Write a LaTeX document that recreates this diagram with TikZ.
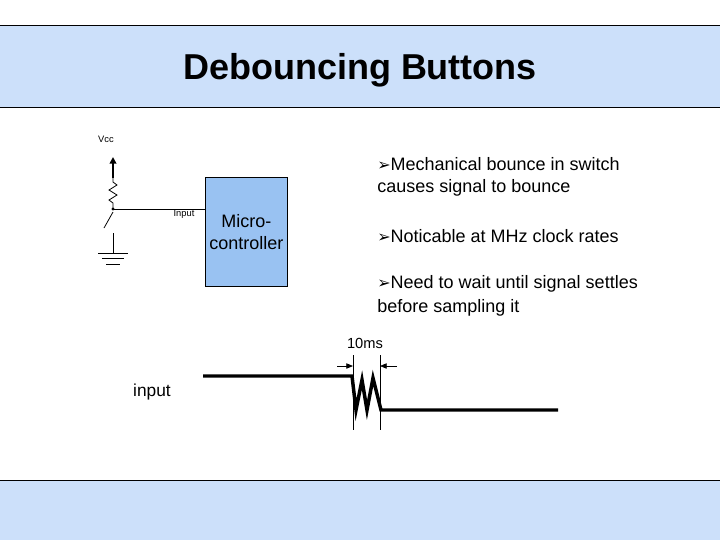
\documentclass[tikz,border=0pt]{standalone}
\usepackage{fontspec}
\setmainfont{Liberation Sans}
\newfontfamily\djv{DejaVu Sans}
\usetikzlibrary{arrows.meta}
\definecolor{band}{HTML}{CCE0FA}
\definecolor{boxc}{HTML}{99C2F2}
\tikzset{txt/.style={inner sep=0pt,anchor=west,font=\fontsize{13.5pt}{16pt}\selectfont},
 wave/.style={line width=2.6pt},thin/.style={line width=0.6pt}}
\begin{document}
\begin{tikzpicture}[x=0.75pt,y=-0.75pt]
\useasboundingbox (0,0) rectangle (720,540);
\fill[white] (0,0) rectangle (720,540);
\fill[band] (0,25) rectangle (720,107);
\draw[thin] (0,25) -- (720,25) (0,107) -- (720,107);
\fill[band] (0,480) rectangle (720,540);
\draw[thin] (0,480) -- (720,480);
\node[font=\bfseries\fontsize{27pt}{30pt}\selectfont] (title) at (360,70) {Debouncing Buttons};
% circuit
\node[font=\fontsize{7pt}{8pt}\selectfont] (vcc) at (106,139) {Vcc};
\coordinate (j) at (113,209);
\coordinate (rt) at (113,178);
\coordinate (ar) at (113,157);
\draw[line width=1.3pt,-{Triangle[length=5pt,width=5pt]}] (rt) -- (ar);
\draw[thin] (rt) -- (113,182) -- (117,185) -- (109,190) -- (117,195) -- (109,200) -- (113,203) -- (j);
\fill (j) circle (1.3pt);
\node[draw=black,thin,fill=boxc,minimum width=61.5pt,minimum height=81.75pt,inner sep=0pt,anchor=north west,align=center,font=\fontsize{13.5pt}{16pt}\selectfont] (mc) at (205,177) {Micro-\\controller};
\draw[thin] (j) -- (mc.west |- j);
\node[font=\fontsize{7pt}{8pt}\selectfont] (inp) at (184,214) {Input};
\draw[thin] (113,212) -- (104,228);
\draw[thin] (113,233) -- (113,253);
\draw[thin] (98,253) -- (128,253) (102,258) -- (124,258) (106,264) -- (120,264);
% bullets
\node[txt] (b1) at (377,164) {{\djv\fontsize{12pt}{14pt}\selectfont ➢}Mechanical bounce in switch};
\node[txt] (b1b) at (377,188) {causes signal to bounce};
\node[txt] (b2) at (377,236) {{\djv\fontsize{12pt}{14pt}\selectfont ➢}Noticable at MHz clock rates};
\node[txt] (b3) at (377,284) {{\djv\fontsize{12pt}{14pt}\selectfont ➢}Need to wait until signal settles};
\node[txt] (b3b) at (377,308) {before sampling it};
% waveform
\node[font=\fontsize{11pt}{13pt}\selectfont] (ms) at (365,343) {10ms};
\node[font=\fontsize{13pt}{15pt}\selectfont] (in) at (152,392) {input};
\draw[wave,line join=miter] (203,376) -- (352,376) -- (356,410) -- (362,380) -- (367,410) -- (373,378) -- (381,410) -- (558,410);
\coordinate (l1) at (353,355); \coordinate (l2) at (380,355);
\draw[thin] (l1) -- (353,430) (l2) -- (380,430);
\draw[thin,-{Triangle[length=5pt,width=4pt]}] (337,366) -- (353,366);
\draw[thin,-{Triangle[length=5pt,width=4pt]}] (397,366) -- (380,366);
\end{tikzpicture}
\end{document}
